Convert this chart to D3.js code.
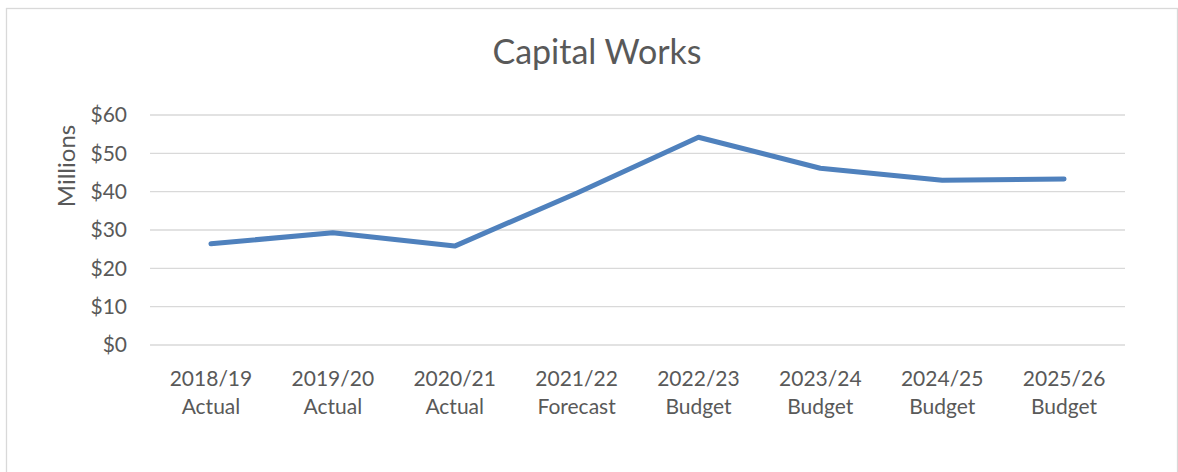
<!DOCTYPE html>
<html>
<head>
<meta charset="utf-8">
<script src="https://cdn.jsdelivr.net/npm/d3@7"></script>
<style>
  html, body { margin: 0; padding: 0; background: #fff; }
  svg { display: block; }
  text { font-family: Lato, "Open Sans", sans-serif; fill: #595959; }
</style>
</head>
<body>
<svg id="chart" width="1178" height="472"></svg>
<script>
const title = "Capital Works";
const yTitle = "Millions";
const years = ["2018/19", "2019/20", "2020/21", "2021/22", "2022/23", "2023/24", "2024/25", "2025/26"];
const kinds = ["Actual", "Actual", "Actual", "Forecast", "Budget", "Budget", "Budget", "Budget"];
const values = [26.4, 29.3, 25.8, 39.6, 54.2, 46.1, 43.0, 43.3];
const yTicks = [0, 10, 20, 30, 40, 50, 60];

(function () {
const svg = d3.select("#chart");

// outer frame
svg.append("rect")
  .attr("x", 6.5).attr("y", 8.5)
  .attr("width", 1171).attr("height", 480)
  .attr("fill", "#fff").attr("stroke", "#d9d9d9").attr("stroke-width", 1.3);

const pLeft = 150, pRight = 1125, pTop = 115, pBottom = 345;

const x = d3.scaleBand().domain(years).range([pLeft, pRight]);
const y = d3.scaleLinear().domain([0, 60]).range([pBottom, pTop]);

// gridlines
svg.append("g")
  .selectAll("line")
  .data(yTicks)
  .join("line")
  .attr("x1", pLeft).attr("x2", pRight)
  .attr("y1", d => y(d)).attr("y2", d => y(d))
  .attr("stroke", "#d9d9d9").attr("stroke-width", 1.3);

// y axis labels
const yAxis = d3.axisLeft(y).tickValues(yTicks).tickSize(0).tickPadding(0)
  .tickFormat(d => "$" + d);
const gy = svg.append("g").attr("transform", "translate(127,0)").call(yAxis);
gy.select(".domain").remove();
gy.selectAll("text").style("font-size", "21px").style("fill", "#595959")
  .style("font-family", "Lato, sans-serif");

// x axis labels (two lines)
const xAxis = d3.axisBottom(x).tickSize(0).tickPadding(0).tickFormat("");
const gx = svg.append("g").attr("transform", `translate(0,${pBottom})`).call(xAxis);
gx.select(".domain").remove();
gx.selectAll(".tick").each(function (d, i) {
  const t = d3.select(this).append("text")
    .attr("text-anchor", "middle")
    .style("font-size", "21px");
  t.append("tspan").attr("x", 0).attr("y", 41).text(years[i]);
  t.append("tspan").attr("x", 0).attr("y", 69).text(kinds[i]);
});

// line
const line = d3.line()
  .x((d, i) => x(years[i]) + x.bandwidth() / 2)
  .y(d => y(d));
svg.append("path")
  .datum(values)
  .attr("d", line)
  .attr("fill", "none")
  .attr("stroke", "#4f81bd")
  .attr("stroke-width", 5)
  .attr("stroke-linecap", "round")
  .attr("stroke-linejoin", "round");

// title
svg.append("text")
  .attr("x", 597).attr("y", 64)
  .attr("text-anchor", "middle")
  .style("font-size", "34px")
  .text(title);

// y title
svg.append("text")
  .attr("transform", "translate(75,166) rotate(-90)")
  .attr("text-anchor", "middle")
  .style("font-size", "24px")
  .text(yTitle);
})();
</script>
</body>
</html>
